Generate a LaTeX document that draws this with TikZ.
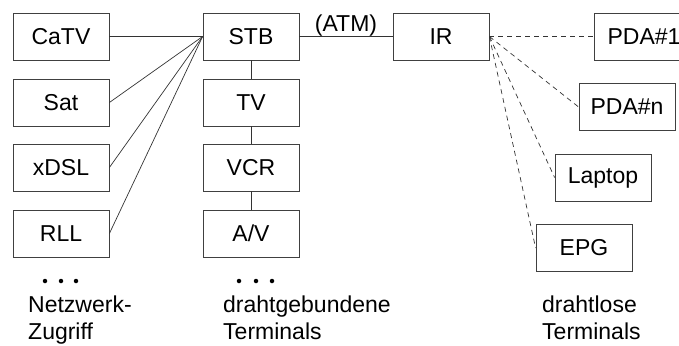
\documentclass[tikz,border=0pt]{standalone}
\usepackage{fontspec}
\setmainfont{Liberation Sans}
\begin{document}
\begin{tikzpicture}[x=1pt,y=-1pt,
 box/.style={draw=black!75, line width=0.8pt, minimum width=96pt, minimum height=47pt, inner sep=0pt, font=\fontsize{23}{27}\selectfont},
 link/.style={draw=black!80, line width=0.7pt},
 wl/.style={draw=black!80, line width=0.7pt, dash pattern=on 5pt off 4pt},
 lbl/.style={anchor=base west, inner sep=0pt, font=\fontsize{23}{27}\selectfont},
 atm/.style={anchor=base, inner sep=0pt, font=\fontsize{23}{27}\selectfont},
 dot/.style={circle, fill=black, inner sep=0pt, minimum size=4.5pt}]
\useasboundingbox (0,0) rectangle (679,345);
% network access
\node[box] (catv) at (61,36.5) {CaTV};
\node[box] (sat) at (61,102.5) {Sat};
\node[box] (xdsl) at (61,167.5) {xDSL};
\node[box] (rll) at (61,233.5) {RLL};
% wired terminals
\node[box] (stb) at (251,36.5) {STB};
\node[box] (tv) at (251,102.5) {TV};
\node[box] (vcr) at (251,167.5) {VCR};
\node[box] (av) at (251,233.5) {A/V};
% IR and wireless
\node[box] (ir) at (441,36.5) {IR};
\node[box, minimum width=100pt] (pda1) at (644,36.5) {PDA\#1};
\node[box] (pdan) at (627,107) {PDA\#n};
\node[box] (laptop) at (603,177.5) {Laptop};
\node[box] (epg) at (584,248) {EPG};
% connectors
\draw[link] (catv.east) -- (stb.west);
\draw[link] (sat.east) -- (stb.west);
\draw[link] (xdsl.east) -- (stb.west);
\draw[link] (rll.east) -- (stb.west);
\draw[link] (stb) -- (tv);
\draw[link] (tv) -- (vcr);
\draw[link] (vcr) -- (av);
\draw[link] (stb.east) -- (ir.west);
\node[atm] (atmlbl) at (346,32) {(ATM)};
\draw[wl] (ir.east) -- (pda1.west);
\draw[wl] (ir.east) -- (pdan.west);
\draw[wl] (ir.east) -- (laptop.west);
\draw[wl] (ir.east) -- (epg.west);
% dots
\node[dot] (d1) at (45,281) {};
\node[dot] (d2) at (61,281) {};
\node[dot] (d3) at (76,281) {};
\node[dot] (d4) at (239,281) {};
\node[dot] (d5) at (256,281) {};
\node[dot] (d6) at (272,281) {};
% labels
\node[lbl] (n1) at (28,312) {Netzwerk-};
\node[lbl] (n2) at (28,339) {Zugriff};
\node[lbl] (w1) at (223,312) {drahtgebundene};
\node[lbl] (w2) at (223,339) {Terminals};
\node[lbl] (l1) at (542,312) {drahtlose};
\node[lbl] (l2) at (542,339) {Terminals};
\end{tikzpicture}
\end{document}
